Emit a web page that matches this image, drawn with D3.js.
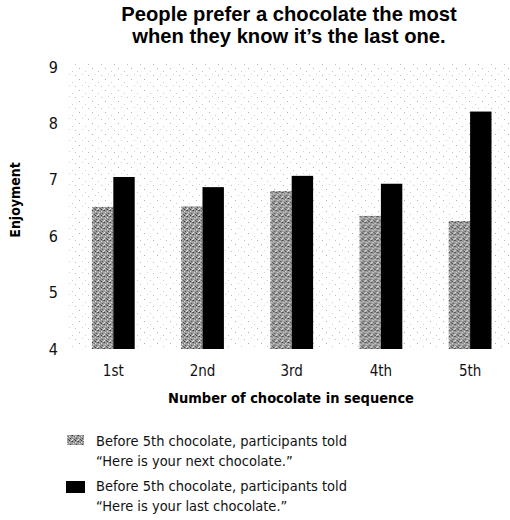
<!DOCTYPE html>
<html>
<head>
<meta charset="utf-8">
<script src="https://cdn.jsdelivr.net/npm/d3@7"></script>
<style>
  body { margin: 0; background: #fff; }
  .cond { font-family: "Liberation Sans Narrow", "DejaVu Sans Condensed", "Roboto Condensed", sans-serif; }
</style>
</head>
<body>
<svg id="chart" width="510" height="520"></svg>
<script>
// data
const categories = ["1st", "2nd", "3rd", "4th", "5th"];
const nextValues = [6.52, 6.53, 6.80, 6.36, 6.27];   // told "next"
const lastValues = [7.05, 6.87, 7.07, 6.93, 8.21];   // told "last"
const yTicks = [4, 5, 6, 7, 8, 9];
const seriesNames = ["next", "last"];
const legendLines = [
  ["Before 5th chocolate, participants told", "\u201CHere is your next chocolate.\u201D"],
  ["Before 5th chocolate, participants told", "\u201CHere is your last chocolate.\u201D"]
];

const svg = d3.select("#chart");
const plot = { left: 68, right: 510, top: 64, bottom: 349 };

// textures
const defs = svg.append("defs");
const bgPat = defs.append("pattern")
  .attr("id", "bgdots").attr("width", 13).attr("height", 11)
  .attr("patternUnits", "userSpaceOnUse");
[[1, 2, "#b0b0b0"], [7, 5, "#cccccc"], [10, 9, "#bdbdbd"], [4, 8, "#d6d6d6"]].forEach(p => {
  bgPat.append("rect").attr("x", p[0]).attr("y", p[1]).attr("width", 1).attr("height", 1).attr("fill", p[2]);
});

const grayPat = defs.append("pattern")
  .attr("id", "graytex").attr("width", 6).attr("height", 6)
  .attr("patternUnits", "userSpaceOnUse");
grayPat.append("rect").attr("width", 6).attr("height", 6).attr("fill", "#9c9c9c");
[[0, 0, "#3a3a3a"], [3, 1, "#e6e6e6"], [1, 2, "#dcdcdc"], [4, 3, "#4a4a4a"], [2, 4, "#555"],
 [5, 5, "#ececec"], [0, 4, "#f0f0f0"], [5, 0, "#666"], [2, 1, "#777"], [3, 5, "#333"]].forEach(p => {
  grayPat.append("rect").attr("x", p[0]).attr("y", p[1]).attr("width", 1).attr("height", 1).attr("fill", p[2]);
});

const fills = { next: "url(#graytex)", last: "#000" };

// plot background
svg.append("rect")
  .attr("x", plot.left).attr("y", plot.top)
  .attr("width", plot.right - plot.left).attr("height", plot.bottom - plot.top)
  .attr("fill", "url(#bgdots)");

const x = d3.scaleBand()
  .domain(categories)
  .range([68.7, 514.7])
  .paddingInner(0.52)
  .paddingOuter(0.26);

const xSub = d3.scaleBand()
  .domain(seriesNames)
  .range([0, x.bandwidth()]);

const y = d3.scaleLinear()
  .domain([4, 9])
  .range([349, 67]);

// title
const title = svg.append("text")
  .attr("x", 289).attr("y", 21)
  .attr("text-anchor", "middle")
  .style("font-family", "'Liberation Sans', Arial, sans-serif")
  .style("font-weight", "bold")
  .style("font-size", "20.2px");
title.append("tspan").attr("x", 289).text("People prefer a chocolate the most");
title.append("tspan").attr("x", 289).attr("dy", 22).text("when they know it\u2019s the last one.");

// bars
const rows = categories.map((c, i) => ({ cat: c, next: nextValues[i], last: lastValues[i] }));
const groups = svg.append("g").selectAll("g")
  .data(rows)
  .enter()
  .append("g")
  .attr("transform", d => "translate(" + x(d.cat) + ",0)");

groups.selectAll("rect")
  .data(d => seriesNames.map(k => ({ key: k, value: d[k] })))
  .enter()
  .append("rect")
  .attr("x", d => xSub(d.key))
  .attr("width", xSub.bandwidth())
  .attr("y", d => y(d.value))
  .attr("height", d => y(4) - y(d.value))
  .attr("fill", d => fills[d.key]);

// axes
const yAxis = svg.append("g")
  .attr("class", "cond")
  .attr("transform", "translate(58,0)")
  .call(d3.axisLeft(y).tickValues(yTicks).tickSize(0).tickPadding(0).tickFormat(d3.format("d")));
yAxis.select(".domain").remove();
yAxis.selectAll("text")
  .attr("text-anchor", "end")
  .style("font-size", "16px")
  .attr("fill", "#111");

const xAxis = svg.append("g")
  .attr("class", "cond")
  .attr("transform", "translate(0," + y(4) + ")")
  .call(d3.axisBottom(x).tickSize(0).tickPadding(16));
xAxis.select(".domain").remove();
xAxis.selectAll("text")
  .style("font-size", "15px")
  .attr("fill", "#111");

// axis titles
svg.append("text")
  .attr("class", "cond")
  .attr("transform", "translate(20,200) rotate(-90)")
  .attr("text-anchor", "middle")
  .style("font-weight", "bold")
  .style("font-size", "14px")
  .text("Enjoyment");

svg.append("text")
  .attr("class", "cond")
  .attr("x", 291).attr("y", 403)
  .attr("text-anchor", "middle")
  .style("font-weight", "bold")
  .style("font-size", "14.5px")
  .text("Number of chocolate in sequence");

// legend
const legend = svg.append("g").attr("class", "cond")
  .selectAll("g")
  .data(seriesNames)
  .enter()
  .append("g")
  .attr("transform", (d, i) => "translate(66," + (435 + i * 45) + ")");

legend.append("rect")
  .attr("x", (d, i) => i === 0 ? 1 : 0)
  .attr("y", (d, i) => i === 0 ? 0 : 1)
  .attr("width", (d, i) => i === 0 ? 17 : 19)
  .attr("height", (d, i) => i === 0 ? 10 : 12)
  .attr("fill", d => fills[d]);

legend.each(function(d, i) {
  const t = d3.select(this).append("text")
    .attr("x", 30).attr("y", 11)
    .style("font-size", "14.5px")
    .attr("fill", "#111");
  t.append("tspan").attr("x", 30).text(legendLines[i][0]);
  t.append("tspan").attr("x", 30).attr("dy", 20).text(legendLines[i][1]);
});
</script>
</body>
</html>
